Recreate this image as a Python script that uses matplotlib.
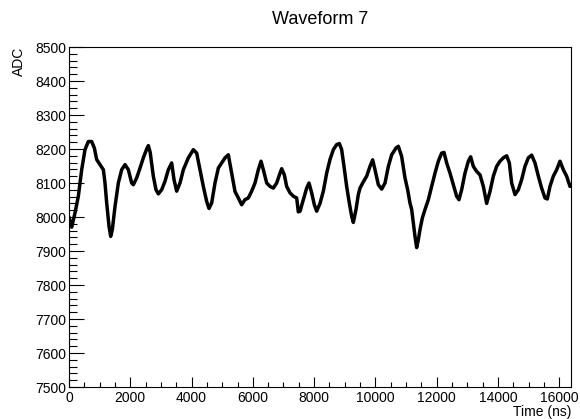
import matplotlib
matplotlib.use("Agg")
import matplotlib.pyplot as plt
from matplotlib.ticker import MultipleLocator

plt.rcParams['font.family'] = ['Liberation Sans', 'DejaVu Sans']

title = "Waveform 7"
x_label = "Time (ns)"
y_label = "ADC"

time_ns = [0, 40, 87, 196, 305, 414, 522, 631, 740, 827, 903, 1012, 1121, 1175, 1230, 1306,
           1360, 1414, 1502, 1610, 1719, 1828, 1937, 2046, 2100, 2209, 2318, 2426, 2535, 2590,
           2650, 2752, 2840, 2916, 3024, 3133, 3242, 3351, 3427, 3514, 3623, 3732, 3895, 4058,
           4167, 4276, 4384, 4493, 4569, 4656, 4765, 4874, 4983, 5092, 5200, 5309, 5418, 5527,
           5636, 5744, 5853, 5962, 6071, 6179, 6267, 6343, 6452, 6560, 6669, 6778, 6887, 6941,
           7028, 7104, 7213, 7322, 7431, 7485, 7540, 7648, 7757, 7833, 7920, 8007, 8083, 8192,
           8301, 8410, 8518, 8627, 8736, 8823, 8899, 8975, 9062, 9149, 9226, 9280, 9367, 9443,
           9498, 9585, 9715, 9824, 9911, 9987, 10096, 10205, 10314, 10423, 10531, 10673, 10749,
           10857, 10966, 11053, 11129, 11184, 11238, 11292, 11347, 11401, 11456, 11532, 11619,
           11728, 11836, 11945, 12054, 12163, 12239, 12326, 12435, 12544, 12652, 12728, 12815,
           12924, 13033, 13109, 13196, 13305, 13414, 13523, 13631, 13740, 13849, 13958, 14066,
           14175, 14284, 14371, 14447, 14556, 14665, 14774, 14882, 14991, 15100, 15209, 15318,
           15426, 15535, 15611, 15698, 15807, 15916, 16025, 16134, 16242, 16351, 16384]

adc = [8000, 7985, 7970, 8012, 8061, 8139, 8198, 8222, 8222, 8203, 8169, 8154, 8139, 8100, 8041, 7973,
       7943, 7963, 8031, 8100, 8139, 8154, 8139, 8100, 8095, 8115, 8144, 8174, 8200, 8210,
       8190, 8120, 8080, 8068, 8080, 8105, 8139, 8159, 8110, 8076, 8100, 8139, 8174, 8198,
       8188, 8139, 8090, 8046, 8025, 8041, 8100, 8144, 8159, 8174, 8183, 8129, 8075, 8056,
       8036, 8051, 8056, 8076, 8100, 8139, 8164, 8139, 8100, 8090, 8085, 8100, 8129, 8142,
       8124, 8090, 8071, 8061, 8056, 8015, 8017, 8051, 8085, 8100, 8071, 8036, 8017, 8040,
       8076, 8129, 8169, 8198, 8213, 8216, 8198, 8149, 8090, 8041, 8002, 7984, 8022, 8066,
       8085, 8100, 8120, 8149, 8168, 8139, 8095, 8082, 8100, 8149, 8183, 8203, 8208,
       8178, 8115, 8080, 8041, 8022, 7982, 7943, 7910, 7933, 7963, 7997, 8022,
       8051, 8090, 8129, 8164, 8188, 8190, 8159, 8129, 8095, 8061, 8051, 8080,
       8129, 8164, 8177, 8149, 8134, 8124, 8090, 8040, 8075, 8120, 8149, 8164,
       8174, 8180, 8159, 8100, 8066, 8080, 8110, 8149, 8174, 8182, 8159, 8120,
       8085, 8056, 8053, 8090, 8120, 8139, 8164, 8139, 8120, 8090, 8095]

x_range = (0, 16384)
y_range = (7500, 8500)

fig = plt.figure(figsize=(5.8, 4.19), dpi=100)
ax = fig.add_axes([69 / 580, 32 / 419, 502 / 580, 340 / 419])

ax.plot(time_ns, adc, color='black', lw=2.5, solid_capstyle='round', solid_joinstyle='round')

ax.set_xlim(*x_range)
ax.set_ylim(*y_range)

ax.xaxis.set_major_locator(MultipleLocator(2000))
ax.xaxis.set_minor_locator(MultipleLocator(500))
ax.yaxis.set_major_locator(MultipleLocator(100))
ax.yaxis.set_minor_locator(MultipleLocator(20))

ax.tick_params(axis='both', which='both', direction='in', width=0.8, labelsize=10,
               top=False, right=False, colors='black')
ax.tick_params(axis='y', which='major', length=10.8, pad=2)
ax.tick_params(axis='y', which='minor', length=5.5)
ax.tick_params(axis='x', which='major', length=7.2, pad=3)
ax.tick_params(axis='x', which='minor', length=3.6)

for s in ax.spines.values():
    s.set_linewidth(0.8)

fig.text(320 / 580, 1 - 20 / 419, title, ha='center', va='center', fontsize=13)
fig.text(571 / 580, 1 - 412 / 419, x_label, ha='right', va='center', fontsize=10)
fig.text(19 / 580, 1 - 47 / 419, y_label, ha='center', va='top', rotation=90, fontsize=10)

fig.savefig("out.png", dpi=100)
